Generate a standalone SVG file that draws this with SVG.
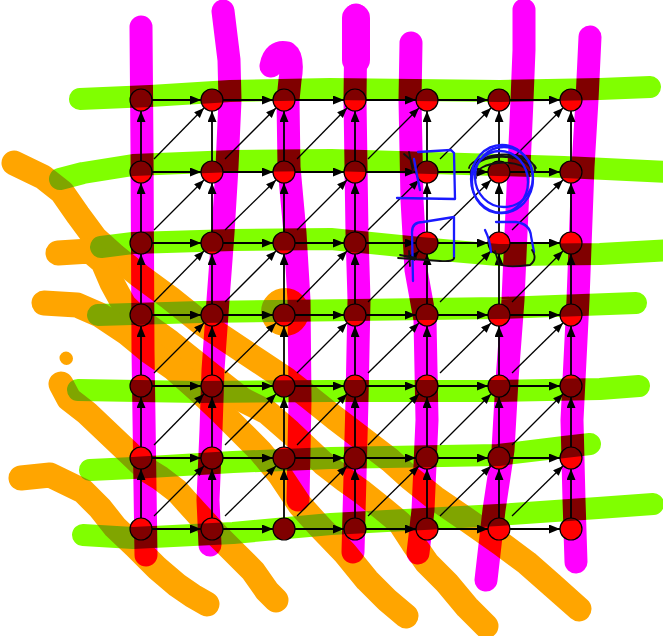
<svg xmlns="http://www.w3.org/2000/svg" width="663" height="636" viewBox="0 0 663 636">
<defs>
<marker id="ah" markerUnits="userSpaceOnUse" markerWidth="12" markerHeight="10" refX="11" refY="4.5" orient="auto"><path d="M0,0 L11,4.5 L0,9 z" fill="#000"/></marker>
<marker id="ad" markerUnits="userSpaceOnUse" markerWidth="11" markerHeight="9" refX="10" refY="4" orient="auto"><path d="M0,0 L10,4 L0,8 z" fill="#000"/></marker>
</defs>
<style>
.e line{stroke:#000;stroke-width:1.8;marker-end:url(#ah)}
.e line.d{stroke-width:1.3;marker-end:url(#ad)}
.n{fill:#ff0000;stroke:#000;stroke-width:1.2}
.mul{mix-blend-mode:multiply}
.m path{fill:none;stroke:#ff00ff;stroke-width:23;stroke-linecap:round;stroke-linejoin:round}
.g path{fill:none;stroke:#80ff00;stroke-width:22;stroke-linecap:round;stroke-linejoin:round}
.o path{fill:none;stroke:#ffa500;stroke-width:25;stroke-linecap:round;stroke-linejoin:round}
.b{fill:none;stroke:#1a1aff;stroke-width:2.3;stroke-linecap:round;stroke-linejoin:round}
.k{fill:none;stroke:#111;stroke-width:1.8;stroke-linecap:round;stroke-linejoin:round}
</style>
<rect width="663" height="636" fill="#fff"/>
<g id="connectors" class="e">
<line x1="152" y1="100" x2="201" y2="100"/><line x1="223" y1="100" x2="273" y2="100"/><line x1="295" y1="100" x2="344" y2="100"/><line x1="366" y1="100" x2="416" y2="100"/><line x1="438" y1="100" x2="488" y2="100"/><line x1="510" y1="100" x2="560" y2="100"/>
<line x1="152" y1="172" x2="201" y2="172"/><line x1="223" y1="172" x2="273" y2="172"/><line x1="295" y1="172" x2="344" y2="172"/><line x1="366" y1="172" x2="416" y2="172"/><line x1="438" y1="172" x2="488" y2="172"/><line x1="510" y1="172" x2="560" y2="172"/>
<line x1="152" y1="243" x2="201" y2="243"/><line x1="223" y1="243" x2="273" y2="243"/><line x1="295" y1="243" x2="344" y2="243"/><line x1="366" y1="243" x2="416" y2="243"/><line x1="438" y1="243" x2="488" y2="243"/><line x1="510" y1="243" x2="560" y2="243"/>
<line x1="152" y1="315" x2="201" y2="315"/><line x1="223" y1="315" x2="273" y2="315"/><line x1="295" y1="315" x2="344" y2="315"/><line x1="366" y1="315" x2="416" y2="315"/><line x1="438" y1="315" x2="488" y2="315"/><line x1="510" y1="315" x2="560" y2="315"/>
<line x1="152" y1="386" x2="201" y2="386"/><line x1="223" y1="386" x2="273" y2="386"/><line x1="295" y1="386" x2="344" y2="386"/><line x1="366" y1="386" x2="416" y2="386"/><line x1="438" y1="386" x2="488" y2="386"/><line x1="510" y1="386" x2="560" y2="386"/>
<line x1="152" y1="458" x2="201" y2="458"/><line x1="223" y1="458" x2="273" y2="458"/><line x1="295" y1="458" x2="344" y2="458"/><line x1="366" y1="458" x2="416" y2="458"/><line x1="438" y1="458" x2="488" y2="458"/><line x1="510" y1="458" x2="560" y2="458"/>
<line x1="152" y1="529" x2="201" y2="529"/><line x1="223" y1="529" x2="273" y2="529"/><line x1="295" y1="529" x2="344" y2="529"/><line x1="366" y1="529" x2="416" y2="529"/><line x1="438" y1="529" x2="488" y2="529"/><line x1="510" y1="529" x2="560" y2="529"/>
<line x1="141" y1="161" x2="141" y2="111"/><line x1="141" y1="232" x2="141" y2="183"/><line x1="141" y1="304" x2="141" y2="254"/><line x1="141" y1="375" x2="141" y2="326"/><line x1="141" y1="447" x2="141" y2="397"/><line x1="141" y1="518" x2="141" y2="469"/>
<line x1="212" y1="161" x2="212" y2="111"/><line x1="212" y1="232" x2="212" y2="183"/><line x1="212" y1="304" x2="212" y2="254"/><line x1="212" y1="375" x2="212" y2="326"/><line x1="212" y1="447" x2="212" y2="397"/><line x1="212" y1="518" x2="212" y2="469"/>
<line x1="284" y1="161" x2="284" y2="111"/><line x1="284" y1="232" x2="284" y2="183"/><line x1="284" y1="304" x2="284" y2="254"/><line x1="284" y1="375" x2="284" y2="326"/><line x1="284" y1="447" x2="284" y2="397"/><line x1="284" y1="518" x2="284" y2="469"/>
<line x1="355" y1="161" x2="355" y2="111"/><line x1="355" y1="232" x2="355" y2="183"/><line x1="355" y1="304" x2="355" y2="254"/><line x1="355" y1="375" x2="355" y2="326"/><line x1="355" y1="447" x2="355" y2="397"/><line x1="355" y1="518" x2="355" y2="469"/>
<line x1="427" y1="161" x2="427" y2="111"/><line x1="427" y1="232" x2="427" y2="183"/><line x1="427" y1="304" x2="427" y2="254"/><line x1="427" y1="375" x2="427" y2="326"/><line x1="427" y1="447" x2="427" y2="397"/><line x1="427" y1="518" x2="427" y2="469"/>
<line x1="499" y1="161" x2="499" y2="111"/><line x1="499" y1="232" x2="499" y2="183"/><line x1="499" y1="304" x2="499" y2="254"/><line x1="499" y1="375" x2="499" y2="326"/><line x1="499" y1="447" x2="499" y2="397"/><line x1="499" y1="518" x2="499" y2="469"/>
<line x1="571" y1="161" x2="571" y2="111"/><line x1="571" y1="232" x2="571" y2="183"/><line x1="571" y1="304" x2="571" y2="254"/><line x1="571" y1="375" x2="571" y2="326"/><line x1="571" y1="447" x2="571" y2="397"/><line x1="571" y1="518" x2="571" y2="469"/>
<line class="d" x1="154" y1="159" x2="204" y2="108"/><line class="d" x1="225" y1="159" x2="276" y2="108"/><line class="d" x1="297" y1="159" x2="347" y2="108"/><line class="d" x1="368" y1="159" x2="419" y2="108"/><line class="d" x1="440" y1="159" x2="491" y2="108"/><line class="d" x1="512" y1="159" x2="563" y2="108"/>
<line class="d" x1="154" y1="230" x2="204" y2="180"/><line class="d" x1="225" y1="230" x2="276" y2="180"/><line class="d" x1="297" y1="230" x2="347" y2="180"/><line class="d" x1="368" y1="230" x2="419" y2="180"/><line class="d" x1="440" y1="230" x2="491" y2="180"/><line class="d" x1="512" y1="230" x2="563" y2="180"/>
<line class="d" x1="154" y1="302" x2="204" y2="251"/><line class="d" x1="225" y1="302" x2="276" y2="251"/><line class="d" x1="297" y1="302" x2="347" y2="251"/><line class="d" x1="368" y1="302" x2="419" y2="251"/><line class="d" x1="440" y1="302" x2="491" y2="251"/><line class="d" x1="512" y1="302" x2="563" y2="251"/>
<line class="d" x1="154" y1="373" x2="204" y2="323"/><line class="d" x1="225" y1="373" x2="276" y2="323"/><line class="d" x1="297" y1="373" x2="347" y2="323"/><line class="d" x1="368" y1="373" x2="419" y2="323"/><line class="d" x1="440" y1="373" x2="491" y2="323"/><line class="d" x1="512" y1="373" x2="563" y2="323"/>
<line class="d" x1="154" y1="445" x2="204" y2="394"/><line class="d" x1="225" y1="445" x2="276" y2="394"/><line class="d" x1="297" y1="445" x2="347" y2="394"/><line class="d" x1="368" y1="445" x2="419" y2="394"/><line class="d" x1="440" y1="445" x2="491" y2="394"/><line class="d" x1="512" y1="445" x2="563" y2="394"/>
<line class="d" x1="154" y1="516" x2="204" y2="466"/><line class="d" x1="225" y1="516" x2="276" y2="466"/><line class="d" x1="297" y1="516" x2="347" y2="466"/><line class="d" x1="368" y1="516" x2="419" y2="466"/><line class="d" x1="440" y1="516" x2="491" y2="466"/><line class="d" x1="512" y1="516" x2="563" y2="466"/>
</g>
<g id="nodes">
<g id="n00"><circle class="n" cx="141" cy="100" r="11"/></g><g id="n01"><circle class="n" cx="212" cy="100" r="11"/></g><g id="n02"><circle class="n" cx="284" cy="100" r="11"/></g><g id="n03"><circle class="n" cx="355" cy="100" r="11"/></g><g id="n04"><circle class="n" cx="427" cy="100" r="11"/></g><g id="n05"><circle class="n" cx="499" cy="100" r="11"/></g><g id="n06"><circle class="n" cx="571" cy="100" r="11"/></g>
<g id="n10"><circle class="n" cx="141" cy="172" r="11"/></g><g id="n11"><circle class="n" cx="212" cy="172" r="11"/></g><g id="n12"><circle class="n" cx="284" cy="172" r="11"/></g><g id="n13"><circle class="n" cx="355" cy="172" r="11"/></g><g id="n14"><circle class="n" cx="427" cy="172" r="11"/></g><g id="n15"><circle class="n" cx="499" cy="172" r="11"/></g><g id="n16"><circle class="n" cx="571" cy="172" r="11"/></g>
<g id="n20"><circle class="n" cx="141" cy="243" r="11"/></g><g id="n21"><circle class="n" cx="212" cy="243" r="11"/></g><g id="n22"><circle class="n" cx="284" cy="243" r="11"/></g><g id="n23"><circle class="n" cx="355" cy="243" r="11"/></g><g id="n24"><circle class="n" cx="427" cy="243" r="11"/></g><g id="n25"><circle class="n" cx="499" cy="243" r="11"/></g><g id="n26"><circle class="n" cx="571" cy="243" r="11"/></g>
<g id="n30"><circle class="n" cx="141" cy="315" r="11"/></g><g id="n31"><circle class="n" cx="212" cy="315" r="11"/></g><g id="n32"><circle class="n" cx="284" cy="315" r="11"/></g><g id="n33"><circle class="n" cx="355" cy="315" r="11"/></g><g id="n34"><circle class="n" cx="427" cy="315" r="11"/></g><g id="n35"><circle class="n" cx="499" cy="315" r="11"/></g><g id="n36"><circle class="n" cx="571" cy="315" r="11"/></g>
<g id="n40"><circle class="n" cx="141" cy="386" r="11"/></g><g id="n41"><circle class="n" cx="212" cy="386" r="11"/></g><g id="n42"><circle class="n" cx="284" cy="386" r="11"/></g><g id="n43"><circle class="n" cx="355" cy="386" r="11"/></g><g id="n44"><circle class="n" cx="427" cy="386" r="11"/></g><g id="n45"><circle class="n" cx="499" cy="386" r="11"/></g><g id="n46"><circle class="n" cx="571" cy="386" r="11"/></g>
<g id="n50"><circle class="n" cx="141" cy="458" r="11"/></g><g id="n51"><circle class="n" cx="212" cy="458" r="11"/></g><g id="n52"><circle class="n" cx="284" cy="458" r="11"/></g><g id="n53"><circle class="n" cx="355" cy="458" r="11"/></g><g id="n54"><circle class="n" cx="427" cy="458" r="11"/></g><g id="n55"><circle class="n" cx="499" cy="458" r="11"/></g><g id="n56"><circle class="n" cx="571" cy="458" r="11"/></g>
<g id="n60"><circle class="n" cx="141" cy="529" r="11"/></g><g id="n61"><circle class="n" cx="212" cy="529" r="11"/></g><g id="n62"><circle class="n" cx="284" cy="529" r="11"/></g><g id="n63"><circle class="n" cx="355" cy="529" r="11"/></g><g id="n64"><circle class="n" cx="427" cy="529" r="11"/></g><g id="n65"><circle class="n" cx="499" cy="529" r="11"/></g><g id="n66"><circle class="n" cx="571" cy="529" r="11"/></g>
</g>
<g id="magenta-strokes" class="m mul">
<path d="M141,27 L142,150 L143,350 L146,555"/>
<path d="M223,11 L229,60 L230,100 L227,167 L223,233 L218,300 L213,370 L211,430 L208,500 L210,545"/>
<path d="M271,66 Q274,50 287,53 Q294,58 290,80 L288,100 L289,167 L295,233 L299,300 L300,400 L298,500"/>
<path d="M356,15 L355,100 L357,233 L359,300 L357,400 L353,552"/>
<path d="M356,18 L356,60" style="stroke-width:28"/>
<path d="M411,43 L410,100 L412,200 L416,270 L425,320 L427,420 L423,510 L418,553"/>
<path d="M524,10 L524,50 L522,100 L519,167 L516,233 L513,300 L507,380 L503,450 L494,510 L486,580"/>
<path d="M590,37 L587,100 L583,167 L578,300 L572,420 L574,500 L576,562"/>
</g>
<g id="green-strokes" class="g mul">
<path d="M80,99 L150,96 L230,91 L330,89 L500,91 L600,89 L650,87"/>
<path d="M60,179 L83,173 L133,165 L233,161 L331,160 L498,165 L564,167 L670,172"/>
<path d="M101,247 L133,243 L233,240 L331,239 L420,248 L498,255 L600,254 L670,250"/>
<path d="M98,315 L200,312 L355,310 L500,308 L636,303"/>
<path d="M78,390 L200,392 L331,391 L498,391 L600,389 L639,386"/>
<path d="M90,470 L133,468 L233,462 L331,458 L498,455 L564,447 L590,444"/>
<path d="M83,535 L133,538 L233,533 L331,524 L498,515 L598,508 L653,504"/>
</g>
<g id="orange-strokes" class="o mul">
<path d="M14,163 L43,177 L62,192 L78,215 L95,238 L115,256 L140,276 L170,298 L200,322 L230,342 L260,362 L287,380 L310,398 L335,418 L360,437 L390,460 L410,478 L435,498 L470,522 L500,543 L527,563 L552,585 L579,609"/>
<path d="M58,253 L90,251 L103,262 L112,283 L124,305 L142,322 L170,342 L200,366 L220,382 L243,400 L267,412 L290,432 L323,463 L345,480 L362,492 L382,508 L400,523 L413,543 L427,563 L447,583 L467,607 L486,626"/>
<path d="M44,303 L77,305 L100,315 L127,333 L150,352 L173,368 L200,392 L220,411 L240,431 L260,451 L280,475 L300,505 L320,527 L345,553 L367,580 L387,600 L406,616"/>
<path d="M61,384 L69,399 L87,413 L107,432 L127,451 L147,470 L160,478 L177,491 L195,511 L215,533 L233,551 L253,571 L267,591 L276,600"/>
<path d="M21,478 L50,475 L83,491 L100,508 L115,527 L135,546 L157,568 L177,585 L193,596 L207,604"/>
<path d="M66,358 L66.5,358.5" style="stroke-width:13"/>
<path d="M272,312 A13,13 0 1 1 298,312 A13,13 0 1 1 272,312" style="stroke-width:22"/>
</g>
<g id="scribbles">
<path class="k" d="M404,154 L411,160 L413,168 M409,152 L413,172"/>
<path class="b" d="M418,152 L451,150 L454,153 L455,199 L397,198"/>
<path class="b" d="M414,159 Q417,176 420,190"/>
<path class="k" d="M471,176 C466,150 537,146 535,172 M474,172 C470,153 532,150 532,174 M469,168 C472,152 530,152 536,168 M476,178 C472,160 528,156 530,176"/>
<ellipse class="b" cx="502" cy="179" rx="31" ry="34"/>
<ellipse class="b" cx="500" cy="182" rx="28" ry="31"/>
<ellipse class="b" cx="504" cy="177" rx="29" ry="30"/>
<path class="b" d="M413,281 L412,232 Q412,222 423,222 L454,217 L454,258"/>
<path class="k" d="M454,258 Q454,262 440,261 L398,258 M400,255 L416,258 M409,251 L410,266"/>
<path class="b" d="M485,230 Q490,240 491,252"/>
<path class="b" d="M496,222 L516,222 Q530,224 531,236 L534,252"/>
<path class="k" d="M495,251 L499,264 Q506,268 530,265 Q538,259 532,250"/>
</g>
</svg>
